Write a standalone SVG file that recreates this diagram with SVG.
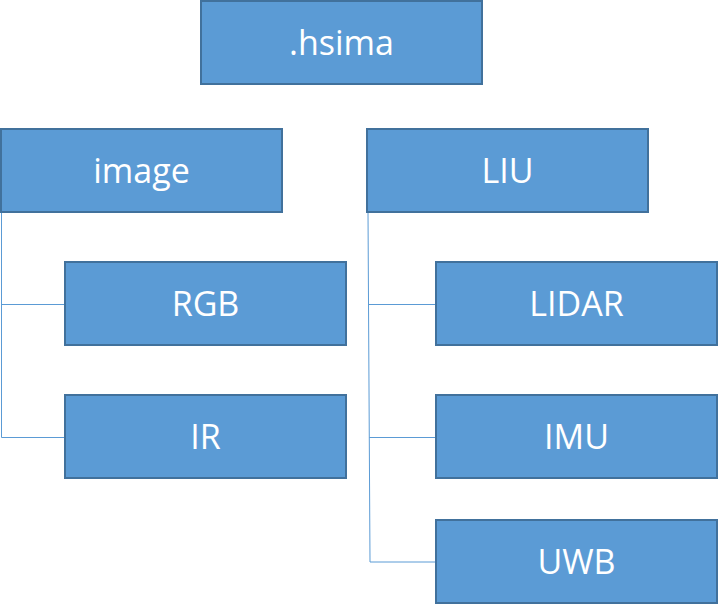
<svg xmlns="http://www.w3.org/2000/svg" width="718" height="607" viewBox="0 0 718 607">
<style>
.box{fill:#5B9BD5;stroke:#41719C;stroke-width:2}
.lbl{fill:#fff;font-family:"Open Sans","Noto Sans",sans-serif;font-size:34px;text-anchor:middle}
.con{fill:none;stroke:#5B9BD5;stroke-width:1}
</style>
<rect width="718" height="607" fill="#fff"/>
<g id="connectors">
<path class="con" d="M1.5,212 V437.5 H65 M1.5,304.5 H65"/>
<path class="con" d="M368,212 L370,562 H435 M368.5,304.5 H435 M369.3,437.5 H435"/>
</g>
<g id="hsima"><rect class="box" x="201" y="1" width="281" height="83"/><text class="lbl" x="341.5" y="55">.hsima</text></g>
<g id="image"><rect class="box" x="1" y="129" width="281" height="83"/><text class="lbl" x="141.5" y="183">image</text></g>
<g id="LIU"><rect class="box" x="367" y="129" width="281" height="83"/><text class="lbl" x="507.5" y="183">LIU</text></g>
<g id="RGB"><rect class="box" x="65" y="262" width="281" height="83"/><text class="lbl" x="205.5" y="316">RGB</text></g>
<g id="IR"><rect class="box" x="65" y="395" width="281" height="83"/><text class="lbl" x="205.5" y="449">IR</text></g>
<g id="LIDAR"><rect class="box" x="436" y="262" width="281" height="83"/><text class="lbl" x="576.5" y="316">LIDAR</text></g>
<g id="IMU"><rect class="box" x="436" y="395" width="281" height="83"/><text class="lbl" x="576.5" y="449">IMU</text></g>
<g id="UWB"><rect class="box" x="436" y="520" width="281" height="83"/><text class="lbl" x="576.5" y="574">UWB</text></g>
</svg>
